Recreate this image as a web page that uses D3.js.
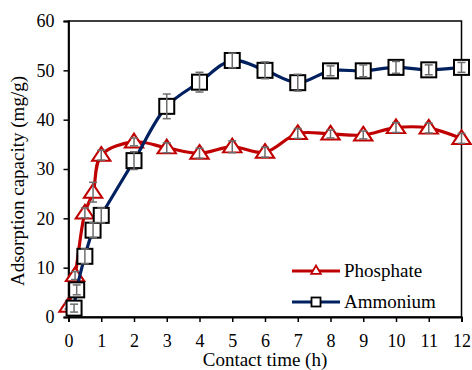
<!DOCTYPE html>
<meta charset="utf-8">
<style>
    body { margin: 0; background: #fff; }
    text { font-family: "Liberation Serif", "Times New Roman", serif; fill: #000; }
</style>
<svg width="472" height="370"></svg>
<script src="https://d3js.org/d3.v7.min.js"></script>
<script>
    // values
    var phosTime = [0, 0.2, 0.5, 0.75, 1, 2, 3, 4, 5, 6, 7, 8, 9, 10, 11, 12];
    var phosValue = [2.2, 8.4, 21.1, 25.3, 32.8, 35.5, 34.3, 33.2, 34.5, 33.4, 37.2, 37.1, 36.9, 38.4, 38.3, 36.2];
    var phosError = [0.6, 0.8, 1.0, 2.0, 1.0, 0.8, 1.0, 1.0, 1.2, 1.0, 1.0, 0.8, 0.8, 1.0, 1.0, 1.0];

    var ammoTime = [0.17, 0.25, 0.5, 0.75, 1, 2, 3, 4, 5, 6, 7, 8, 9, 10, 11, 12];
    var ammoValue = [1.8, 5.5, 12.3, 17.6, 20.6, 31.7, 42.7, 47.6, 52.0, 50.0, 47.5, 49.9, 49.9, 50.6, 50.1, 50.6];
    var ammoError = [0.8, 1.0, 1.5, 1.5, 1.5, 1.8, 2.5, 2.0, 1.5, 1.7, 1.7, 1.0, 1.2, 1.2, 1.0, 1.0];

    var xTicks = d3.range(0, 13);
    var yTicks = [0, 10, 20, 30, 40, 50, 60];

    var svg = d3.select("svg"),
        mLeft = 68.5, mRight = 461.5, mTop = 21, mBottom = 317;

    var x = d3.scaleLinear().domain([0, 12]).range([mLeft, mRight]);
    var y = d3.scaleLinear().domain([0, 60]).range([mBottom, mTop]);

    // frame
    svg.append("rect")
        .attr("x", mLeft).attr("y", mTop)
        .attr("width", mRight - mLeft).attr("height", mBottom - mTop)
        .attr("fill", "none").attr("stroke", "#000").attr("stroke-width", 1.5);

    var xAxis = svg.append("g")
        .attr("transform", "translate(0," + mBottom + ")")
        .call(d3.axisBottom(x).tickValues(xTicks).tickSize(5).tickPadding(12).tickFormat(d3.format("d")));
    var yAxis = svg.append("g")
        .attr("transform", "translate(" + mLeft + ",0)")
        .call(d3.axisLeft(y).tickValues(yTicks).tickSize(5).tickPadding(9));

    [xAxis, yAxis].forEach(function(a) {
        a.select(".domain").attr("stroke", "#000").attr("stroke-width", 1.8);
        a.selectAll(".tick line").attr("stroke", "#000").attr("stroke-width", 1.5);
        a.selectAll(".tick text")
            .style("font-family", "Liberation Serif")
            .style("font-size", "18px")
            .attr("fill", "#000");
    });

    svg.append("text")
        .attr("x", (mLeft + mRight) / 2).attr("y", 366)
        .attr("text-anchor", "middle")
        .style("font-size", "19px")
        .text("Contact time (h)");

    svg.append("text")
        .attr("transform", "translate(24,181) rotate(-90)")
        .attr("text-anchor", "middle")
        .style("font-size", "19px")
        .text("Adsorption capacity (mg/g)");

    var series = [
        { name: "Phosphate", t: phosTime, v: phosValue, e: phosError, color: "#c00000", marker: "triangle" },
        { name: "Ammonium", t: ammoTime, v: ammoValue, e: ammoError, color: "#002060", marker: "square" }
    ];

    var line = d3.line()
        .x(function(d) { return x(d.t); })
        .y(function(d) { return y(d.v); })
        .curve(d3.curveCatmullRom);

    var triangle = d3.symbol().type(d3.symbolTriangle).size(120);

    function drawMarker(g, s) {
        if (s.marker === "triangle") {
            g.append("path")
                .attr("d", triangle)
                .attr("transform", "translate(0,1) scale(1.1,0.95)")
                .attr("fill", "#fff")
                .attr("stroke", s.color)
                .attr("stroke-width", 2);
        } else {
            g.append("rect")
                .attr("x", -7.5).attr("y", -7.5)
                .attr("width", 15).attr("height", 15)
                .attr("fill", "#fff")
                .attr("stroke", "#000")
                .attr("stroke-width", 2);
        }
    }

    series.forEach(function(s) {
        var pts = s.t.map(function(t, i) { return { t: t, v: s.v[i], e: s.e[i] }; });

        svg.append("path")
            .datum(pts)
            .attr("d", line)
            .attr("fill", "none")
            .attr("stroke", s.color)
            .attr("stroke-width", 3.2);

        var m = svg.append("g").selectAll("g")
            .data(pts)
            .enter().append("g")
            .attr("transform", function(d) { return "translate(" + x(d.t) + "," + y(d.v) + ")"; });
        m.each(function() { drawMarker(d3.select(this), s); });

        // error bars
        var eb = svg.append("g").attr("stroke", "#6d6d6d").attr("stroke-width", 1.5);
        pts.forEach(function(d) {
            var cx = x(d.t), y1 = y(d.v + d.e), y2 = y(d.v - d.e);
            eb.append("line").attr("x1", cx).attr("x2", cx).attr("y1", y1).attr("y2", y2);
            eb.append("line").attr("x1", cx - 4).attr("x2", cx + 4).attr("y1", y1).attr("y2", y1);
            eb.append("line").attr("x1", cx - 4).attr("x2", cx + 4).attr("y1", y2).attr("y2", y2);
        });
    });

    // legend
    var legend = svg.append("g").attr("transform", "translate(292,271)");
    series.forEach(function(s, i) {
        var g = legend.append("g").attr("transform", "translate(0," + (i * 31) + ")");
        g.append("line").attr("x1", 0).attr("x2", 48).attr("y1", 0).attr("y2", 0)
            .attr("stroke", s.color).attr("stroke-width", 3.2);
        var mk = g.append("g").attr("transform", "translate(24,0)");
        if (s.marker === "triangle") {
            mk.append("path").attr("d", d3.symbol().type(d3.symbolTriangle).size(40))
                .attr("fill", "#fff").attr("stroke", s.color).attr("stroke-width", 1.8);
        } else {
            mk.append("rect").attr("x", -4.5).attr("y", -4.5).attr("width", 9).attr("height", 9)
                .attr("fill", "#fff").attr("stroke", "#000").attr("stroke-width", 1.8);
        }
        g.append("text").attr("x", 52).attr("y", 6)
            .style("font-size", "19px")
            .text(s.name);
    });
</script>
